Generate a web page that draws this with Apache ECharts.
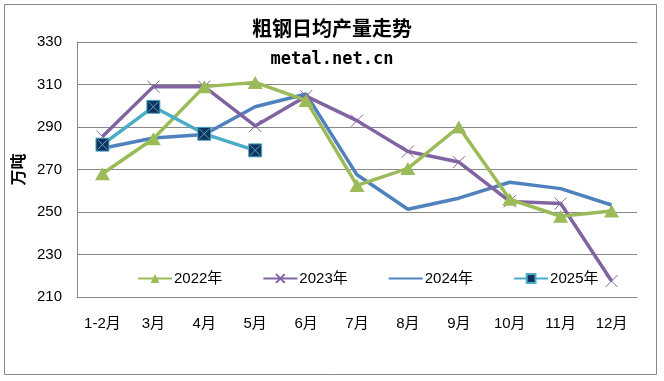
<!DOCTYPE html>
<html>
<head>
<meta charset="utf-8">
<script src="https://cdn.jsdelivr.net/npm/echarts@6/dist/echarts.min.js"></script>
<style>
html,body{margin:0;padding:0;background:#fff;}
#c{width:664px;height:381px;}
</style>
</head>
<body>
<div id="c"></div>
<script>
var categories = ['1-2月','3月','4月','5月','6月','7月','8月','9月','10月','11月','12月'];
var s2022 = [268, 284.5, 309, 311, 302.5, 262.5, 270.5, 290, 256, 248, 250.5];
var s2023 = [285.5, 309, 309, 290.5, 304.5, 293, 278.5, 273.5, 255, 254, 217.5];
var s2024 = [280, 284.8, 286.5, 299.5, 305.5, 267.5, 251.3, 256.5, 264, 261, 253.3];
var s2025 = [281.7, 299.5, 286.8, 279];
var yTicks = [210, 230, 250, 270, 290, 310, 330];
var seriesNames = ['2022年','2023年','2024年','2025年'];

var FONT = '"Liberation Sans","Noto Sans CJK SC",sans-serif';
var chart = echarts.init(document.getElementById('c'), null, {renderer:'canvas'});
var xPath = 'path://M0,0L10,10M10,0L0,10';
chart.setOption({
  animation:false,
  backgroundColor:'#fff',
  title:[
    {text:'粗钢日均产量走势', left:'center', top:13,
     textStyle:{fontFamily:'"Noto Sans CJK SC",sans-serif', fontWeight:'bold', fontSize:20, color:'#000'}},
    {text:'metal.net.cn', left:'center', top:46,
     textStyle:{fontFamily:'"DejaVu Sans Mono",monospace', fontWeight:'bold', fontSize:17, color:'#000'}}
  ],
  graphic:[{type:'rect', shape:{x:4.5,y:4.5,width:652,height:370}, style:{fill:'none', stroke:'#888', lineWidth:1}, silent:true, z:-1}],
  legend:{
    data:[
      {name:seriesNames[0]},
      {name:seriesNames[1]},
      {name:seriesNames[2], itemStyle:{opacity:0}},
      {name:seriesNames[3]}
    ],
    left:137, top:271, padding:0, itemWidth:34, itemHeight:11, itemGap:40,
    textStyle:{fontFamily:FONT, fontSize:15, color:'#000', padding:[0,0,0,-3]}
  },
  grid:{left:77, right:27, top:42, bottom:84},
  xAxis:{
    type:'category', data:categories, boundaryGap:true,
    axisLine:{lineStyle:{color:'#888', width:1}},
    axisTick:{show:false},
    axisLabel:{fontFamily:FONT, fontSize:15, color:'#000', margin:19}
  },
  yAxis:{
    type:'value', min:yTicks[0], max:yTicks[yTicks.length-1], interval:20,
    name:'万吨', nameLocation:'middle', nameRotate:90, nameGap:50,
    nameTextStyle:{fontFamily:'"Noto Sans CJK SC",sans-serif', fontWeight:'bold', fontSize:16, color:'#000'},
    axisLine:{show:true, lineStyle:{color:'#888', width:1}},
    axisTick:{show:false},
    splitLine:{lineStyle:{color:'#888', width:1}},
    axisLabel:{fontFamily:FONT, fontSize:15, color:'#000', margin:15}
  },
  series:[
    {name:seriesNames[0], type:'line', data:s2022, symbol:'triangle', symbolSize:[15,13],
     lineStyle:{color:'#9BBB59', width:3.5}, itemStyle:{color:'#9BBB59'}, z:3},
    {name:seriesNames[1], type:'line', data:s2023, symbol:xPath, symbolSize:12,
     lineStyle:{color:'#8064A2', width:3.5}, itemStyle:{color:'#8064A2', borderColor:'#8064A2', borderWidth:1}, z:2},
    {name:seriesNames[2], type:'line', data:s2024, symbol:'none', showSymbol:false,
     lineStyle:{color:'#4F81BD', width:3.5}, itemStyle:{color:'#4F81BD'}, z:1},
    {name:seriesNames[3], type:'line', data:s2025, symbol:'rect', symbolSize:13,
     lineStyle:{color:'#4BACC6', width:3.5}, itemStyle:{color:'#13325E', borderColor:'#4BACC6', borderWidth:1}, z:4},
    {name:'2025x', type:'line', data:s2025, symbol:xPath, symbolSize:10,
     lineStyle:{width:0, opacity:0}, itemStyle:{color:'#4BACC6', borderColor:'#4BACC6', borderWidth:1}, z:5}
  ]
});
</script>
</body>
</html>
